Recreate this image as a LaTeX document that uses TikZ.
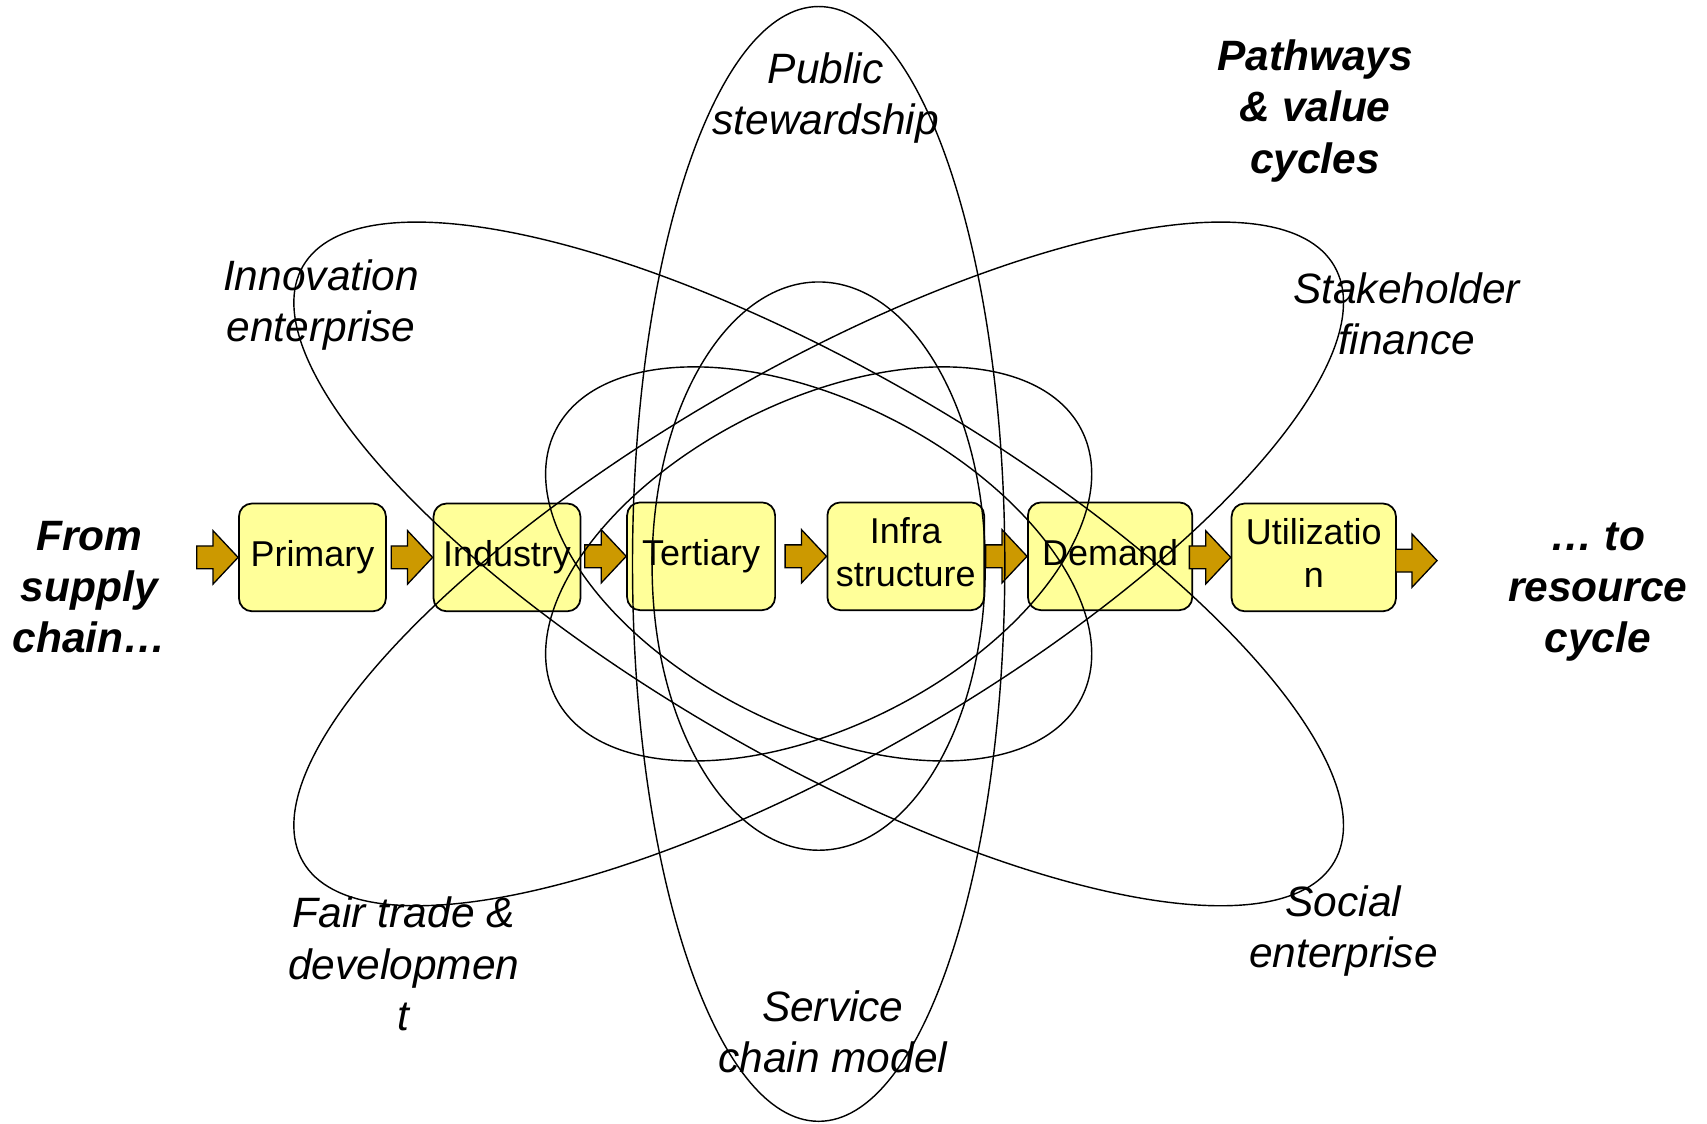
\documentclass[tikz,border=0pt]{standalone}
\usepackage{fontspec}
\setmainfont{Liberation Sans}
\usetikzlibrary{calc}
\definecolor{boxfill}{HTML}{FFFF99}
\definecolor{arrowfill}{HTML}{CC9900}
\begin{document}
\begin{tikzpicture}[x=1pt,y=-1pt,
  stage/.style={draw=black, line width=1.6pt, fill=boxfill, rounded corners=12pt,
    minimum height=99pt, inner sep=0pt, align=center,
    font=\fontsize{33pt}{40pt}\selectfont},
  outer/.style={inner sep=0pt, align=center, font=\fontsize{39pt}{47pt}\selectfont\itshape},
  outerbold/.style={inner sep=0pt, align=center, font=\fontsize{39pt}{47pt}\selectfont\bfseries\itshape},
  cyc/.style={draw=black, line width=1.3pt},
  blockarr/.style={draw=black, line width=1.2pt, fill=arrowfill,
    to path={let \p1=(\tikztostart), \p2=(\tikztotarget) in
      (\x2-38pt,\y2+10.5pt) -- (\x2-23pt,\y2+10.5pt) -- (\x2-23pt,\y2+24.5pt) -- (\x2,\y2)
      -- (\x2-23pt,\y2-24.5pt) -- (\x2-23pt,\y2-10.5pt) -- (\x2-38pt,\y2-10.5pt) -- cycle}}
]
\useasboundingbox (0,0) rectangle (1568,1032);
\fill[white] (0,0) rectangle (1568,1032);

% stages
\node[stage, minimum width=135pt] (primary) at (287,512) {\strut Primary};
\node[stage, minimum width=135pt] (industry) at (465.7,512) {\strut Industry};
\node[stage, minimum width=136pt] (tertiary) at (644,511) {\strut Tertiary};
\node[stage, minimum width=144pt] (infra) at (832,511) {\strut Infra\\\strut structure};
\node[stage, minimum width=151pt] (demand) at (1019.7,511) {\strut Demand};
\node[stage, minimum width=151pt] (util) at (1206.8,512) {\strut Utilizatio\\\strut n};

\coordinate (src) at (179,512);
\coordinate (dst) at (1320,515);

% block arrows
\draw[blockarr] (src) to (primary.west);
\draw[blockarr] (primary) to (industry.west);
\draw[blockarr] (industry) to (tertiary.west);
\draw[blockarr] (tertiary) to (infra.west);
\draw[blockarr] (infra) to (demand.west);
\draw[blockarr] (demand) to (util.west);
\draw[blockarr] (util) to (dst);

% labels
\node[outerbold] (from) at (82,543) {\strut From\\\strut supply\\\strut chain…};
\node[outerbold] (toward) at (1467.7,543) {\strut … to\\\strut resource\\\strut cycle};
\node[outerbold] (pathways) at (1208,102.6) {\strut Pathways\\\strut \& value\\\strut cycles};
\node[outer] (public) at (758.4,90.6) {\strut Public\\\strut stewardship};
\node[outer] (innov) at (295,280.5) {\strut Innovation\\\strut enterprise};
\node[outer] (stake) at (1292,292.7) {\strut Stakeholder\\\strut finance};
\node[outer] (fair) at (371,890) {\strut Fair trade \&\\\strut developmen\\\strut t};
\node[outer] (social) at (1234,856) {\strut Social\\\strut enterprise};
\node[outer] (service) at (765,952) {\strut Service\\\strut chain model};

% cycles
\draw[cyc] (752,518) ellipse [x radius=171pt, y radius=512pt];
\draw[cyc] (752,520) ellipse [x radius=153pt, y radius=261pt];
\draw[cyc, rotate around={-27:(752,518)}] (752,518) ellipse [x radius=271pt, y radius=149pt];
\draw[cyc, rotate around={27:(752,518)}] (752,518) ellipse [x radius=271pt, y radius=149pt];
\draw[cyc, rotate around={-30:(752,518)}] (752,518) ellipse [x radius=547pt, y radius=178pt];
\draw[cyc, rotate around={30:(752,518)}] (752,518) ellipse [x radius=547pt, y radius=178pt];
\end{tikzpicture}
\end{document}
